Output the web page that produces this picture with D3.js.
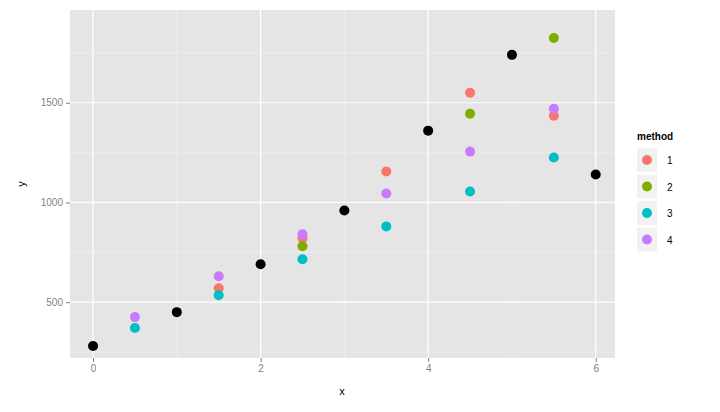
<!DOCTYPE html>
<html><head><meta charset="utf-8">
<script src="https://cdn.jsdelivr.net/npm/d3@7"></script>
<style>body{margin:0;background:#fff}text{font-family:"Liberation Sans",Arial,sans-serif}</style>
</head><body><svg id="c" width="720" height="412"></svg>
<script>
// base series (black) and the four methods
var baseX = [0, 1, 2, 3, 4, 5, 6];
var baseY = [280, 450, 690, 960, 1360, 1740, 1140];
var methodX = [0.5, 1.5, 2.5, 3.5, 4.5, 5.5];
var method1 = [null, 570, 820, 1155, 1550, 1435];
var method2 = [null, null, 780, null, 1445, 1825];
var method3 = [370, 535, 715, 880, 1055, 1225];
var method4 = [425, 630, 840, 1045, 1255, 1470];
var methods = ["1", "2", "3", "4"];
var colors = ["#F8766D", "#7CAE00", "#00BFC4", "#C77CFF"];
var xTicks = [0, 2, 4, 6], yTicks = [500, 1000, 1500];

var svg = d3.select("#c");
var x = d3.scaleLinear().domain([-0.275, 6.23]).range([70, 615]);
var y = d3.scaleLinear().domain([220, 1965]).range([358, 10]);

svg.append("rect").attr("x", 70).attr("y", 10).attr("width", 545).attr("height", 348).attr("fill", "#E5E5E5");
// minor grid
svg.selectAll(".mx").data([1, 3, 5]).enter().append("line")
	.attr("x1", d => x(d)).attr("x2", d => x(d)).attr("y1", 10).attr("y2", 358)
	.attr("stroke", "#F2F2F2").attr("stroke-width", 0.6);
svg.selectAll(".my").data([250, 750, 1250, 1750]).enter().append("line")
	.attr("y1", d => y(d)).attr("y2", d => y(d)).attr("x1", 70).attr("x2", 615)
	.attr("stroke", "#F2F2F2").attr("stroke-width", 0.6);
// major grid
svg.selectAll(".gx").data(xTicks).enter().append("line")
	.attr("x1", d => x(d)).attr("x2", d => x(d)).attr("y1", 10).attr("y2", 358)
	.attr("stroke", "#fff").attr("stroke-width", 1.2);
svg.selectAll(".gy").data(yTicks).enter().append("line")
	.attr("y1", d => y(d)).attr("y2", d => y(d)).attr("x1", 70).attr("x2", 615)
	.attr("stroke", "#fff").attr("stroke-width", 1.2);

// axes
var xa = svg.append("g").attr("transform", "translate(0,358)")
	.call(d3.axisBottom(x).tickValues(xTicks).tickFormat(d3.format("d")).tickSize(4).tickPadding(3));
var ya = svg.append("g").attr("transform", "translate(70,0)")
	.call(d3.axisLeft(y).tickValues(yTicks).tickFormat(d3.format("d")).tickSize(4).tickPadding(3));
[xa, ya].forEach(function(a) {
	a.select(".domain").remove();
	a.selectAll("line").attr("stroke", "#7F7F7F");
	a.selectAll("text").attr("fill", "#7F7F7F").style("font-size", "10px");
});
svg.append("text").attr("x", 342).attr("y", 395).attr("text-anchor", "middle").style("font-size", "11px").text("x");
svg.append("text").attr("transform", "translate(25,184) rotate(-90)").attr("text-anchor", "middle").style("font-size", "11px").text("y");

// points
var pts = [];
[method1, method2, method3, method4].forEach(function(arr, m) {
	arr.forEach(function(v, i) { if (v != null) pts.push({x: methodX[i], y: v, c: colors[m]}); });
});
baseX.forEach(function(v, i) { pts.push({x: v, y: baseY[i], c: "#000"}); });
svg.selectAll(".pt").data(pts).enter().append("circle")
	.attr("cx", d => x(d.x)).attr("cy", d => y(d.y)).attr("r", 5).attr("fill", d => d.c);

// legend
svg.append("text").attr("x", 637).attr("y", 140).style("font-size", "10px").style("font-weight", "bold").text("method");
var lg = svg.selectAll(".lg").data(methods).enter().append("g")
	.attr("transform", (d, i) => "translate(637," + (148 + i * 26.5) + ")");
lg.append("rect").attr("width", 20).attr("height", 24).attr("fill", "#F2F2F2");
lg.append("circle").attr("cx", 10).attr("cy", 12).attr("r", 5).attr("fill", (d, i) => colors[i]);
lg.append("text").attr("x", 30).attr("y", 16).style("font-size", "10px").text(d => d);
</script></body></html>
